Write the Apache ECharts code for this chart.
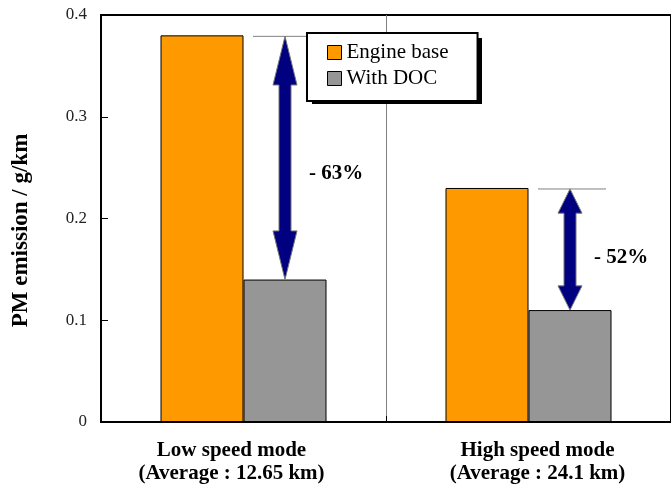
<!DOCTYPE html>
<html>
<head>
<meta charset="utf-8">
<script src="https://cdn.jsdelivr.net/npm/echarts@6/dist/echarts.min.js"></script>
<style>
html,body{margin:0;padding:0;background:#fff;}
#chart{width:671px;height:492px;}
</style>
</head>
<body>
<div id="chart"></div>
<script>
const categories = ['Low speed mode\n(Average : 12.65 km)', 'High speed mode\n(Average : 24.1 km)'];
const seriesNames = ['Engine base', 'With DOC'];
const engineBase = [0.38, 0.23];
const withDOC = [0.14, 0.11];
const reductionLabels = ['- 63%', '- 52%'];
const yTickLabels = ['0', '0.1', '0.2', '0.3', '0.4'];

const SERIF = '"Liberation Serif", "Times New Roman", serif';
const BAR_W = 83;

const chart = echarts.init(document.getElementById('chart'), null, {renderer: 'canvas'});

const arrowData = categories.map((c, i) => [i, engineBase[i], withDOC[i]]);

const option = {
  animation: false,
  backgroundColor: '#fff',
  grid: {
    left: 101, right: -9, top: 15, bottom: 70,
    show: true, borderColor: '#000', borderWidth: 2, backgroundColor: 'transparent'
  },
  graphic: [
    {type: 'rect', left: 312, top: 38, z: 3, silent: true,
     shape: {width: 170, height: 66}, style: {fill: '#000'}}
  ],
  legend: {
    data: seriesNames,
    orient: 'vertical',
    left: 307, top: 33,
    z: 5,
    itemWidth: 14, itemHeight: 14, itemGap: 5,
    icon: 'rect',
    padding: [9, 29, 12, 20],
    backgroundColor: '#fff',
    borderColor: '#000', borderWidth: 2,
    textStyle: {fontFamily: SERIF, fontSize: 21, color: '#000', lineHeight: 20},
    itemStyle: {borderColor: '#000', borderWidth: 1}
  },
  xAxis: {
    type: 'category',
    data: categories,
    boundaryGap: true,
    axisLine: {lineStyle: {color: '#000', width: 2}},
    axisTick: {show: true, inside: true, length: 6, lineStyle: {color: '#000', width: 1}},
    splitLine: {show: true, lineStyle: {color: '#808080', width: 1}},
    axisLabel: {
      margin: 17,
      formatter: function (v, i) {
        const key = i === 0 ? 'l' : 'r';
        return v.split('\n').map(s => '{' + key + '|' + s + '}').join('\n');
      },
      rich: {
        l: {fontFamily: SERIF, fontWeight: 'bold', fontSize: 21, color: '#000', lineHeight: 23, padding: [0, 24, 0, 0]},
        r: {fontFamily: SERIF, fontWeight: 'bold', fontSize: 21, color: '#000', lineHeight: 23, padding: [0, 0, 0, 18]}
      }
    }
  },
  yAxis: {
    type: 'value',
    min: 0, max: 0.4, interval: 0.1,
    name: 'PM emission / g/km',
    nameLocation: 'middle',
    nameGap: 68,
    nameTextStyle: {fontFamily: SERIF, fontWeight: 'bold', fontSize: 23, color: '#000', padding: [0, 24, 0, 0]},
    axisLine: {show: true, lineStyle: {color: '#000', width: 2}},
    axisTick: {show: true, inside: true, length: 7, lineStyle: {color: '#000', width: 1}},
    splitLine: {show: false},
    axisLabel: {
      margin: 14,
      fontFamily: SERIF, fontSize: 17, color: '#222',
      formatter: function (v) {
        const idx = Math.round(v / 0.1);
        return yTickLabels[idx] !== undefined ? yTickLabels[idx] : String(v);
      }
    }
  },
  series: [
    {
      name: seriesNames[0], type: 'bar', data: engineBase,
      barWidth: BAR_W, barGap: '0%',
      itemStyle: {color: '#FF9900', borderColor: '#000', borderWidth: 1}
    },
    {
      name: seriesNames[1], type: 'bar', data: withDOC,
      barWidth: BAR_W, barGap: '0%',
      itemStyle: {color: '#969696', borderColor: '#000', borderWidth: 1}
    },
    {
      name: 'reduction', type: 'custom', data: arrowData,
      encode: {x: 0, y: [1, 2]},
      z: 3,
      renderItem: function (params, api) {
        const i = api.value(0);
        const top = api.coord([i, api.value(1)]);
        const bot = api.coord([i, api.value(2)]);
        const x = top[0] + BAR_W / 2;
        const y1 = top[1] + 1, y2 = bot[1];
        const L = y2 - y1;
        const hl = L * 0.2, hw = 12, sw = 6;
        const pts = [
          [x, y1], [x + hw, y1 + hl], [x + sw, y1 + hl], [x + sw, y2 - hl], [x + hw, y2 - hl],
          [x, y2], [x - hw, y2 - hl], [x - sw, y2 - hl], [x - sw, y1 + hl], [x - hw, y1 + hl]
        ];
        return {
          type: 'group',
          children: [
            {type: 'line', shape: {x1: x - 32, y1: y1, x2: x + 36, y2: y1},
             style: {stroke: '#808080', lineWidth: 1}},
            {type: 'polygon', shape: {points: pts},
             style: {fill: '#000080', stroke: '#777', lineWidth: 1}},
            {type: 'text',
             style: {text: reductionLabels[i], x: x + 24, y: y1 + 0.565 * L,
                     font: 'bold 21px ' + SERIF, fill: '#000', align: 'left', verticalAlign: 'middle'}}
          ]
        };
      }
    }
  ]
};
chart.setOption(option);
</script>
</body>
</html>
